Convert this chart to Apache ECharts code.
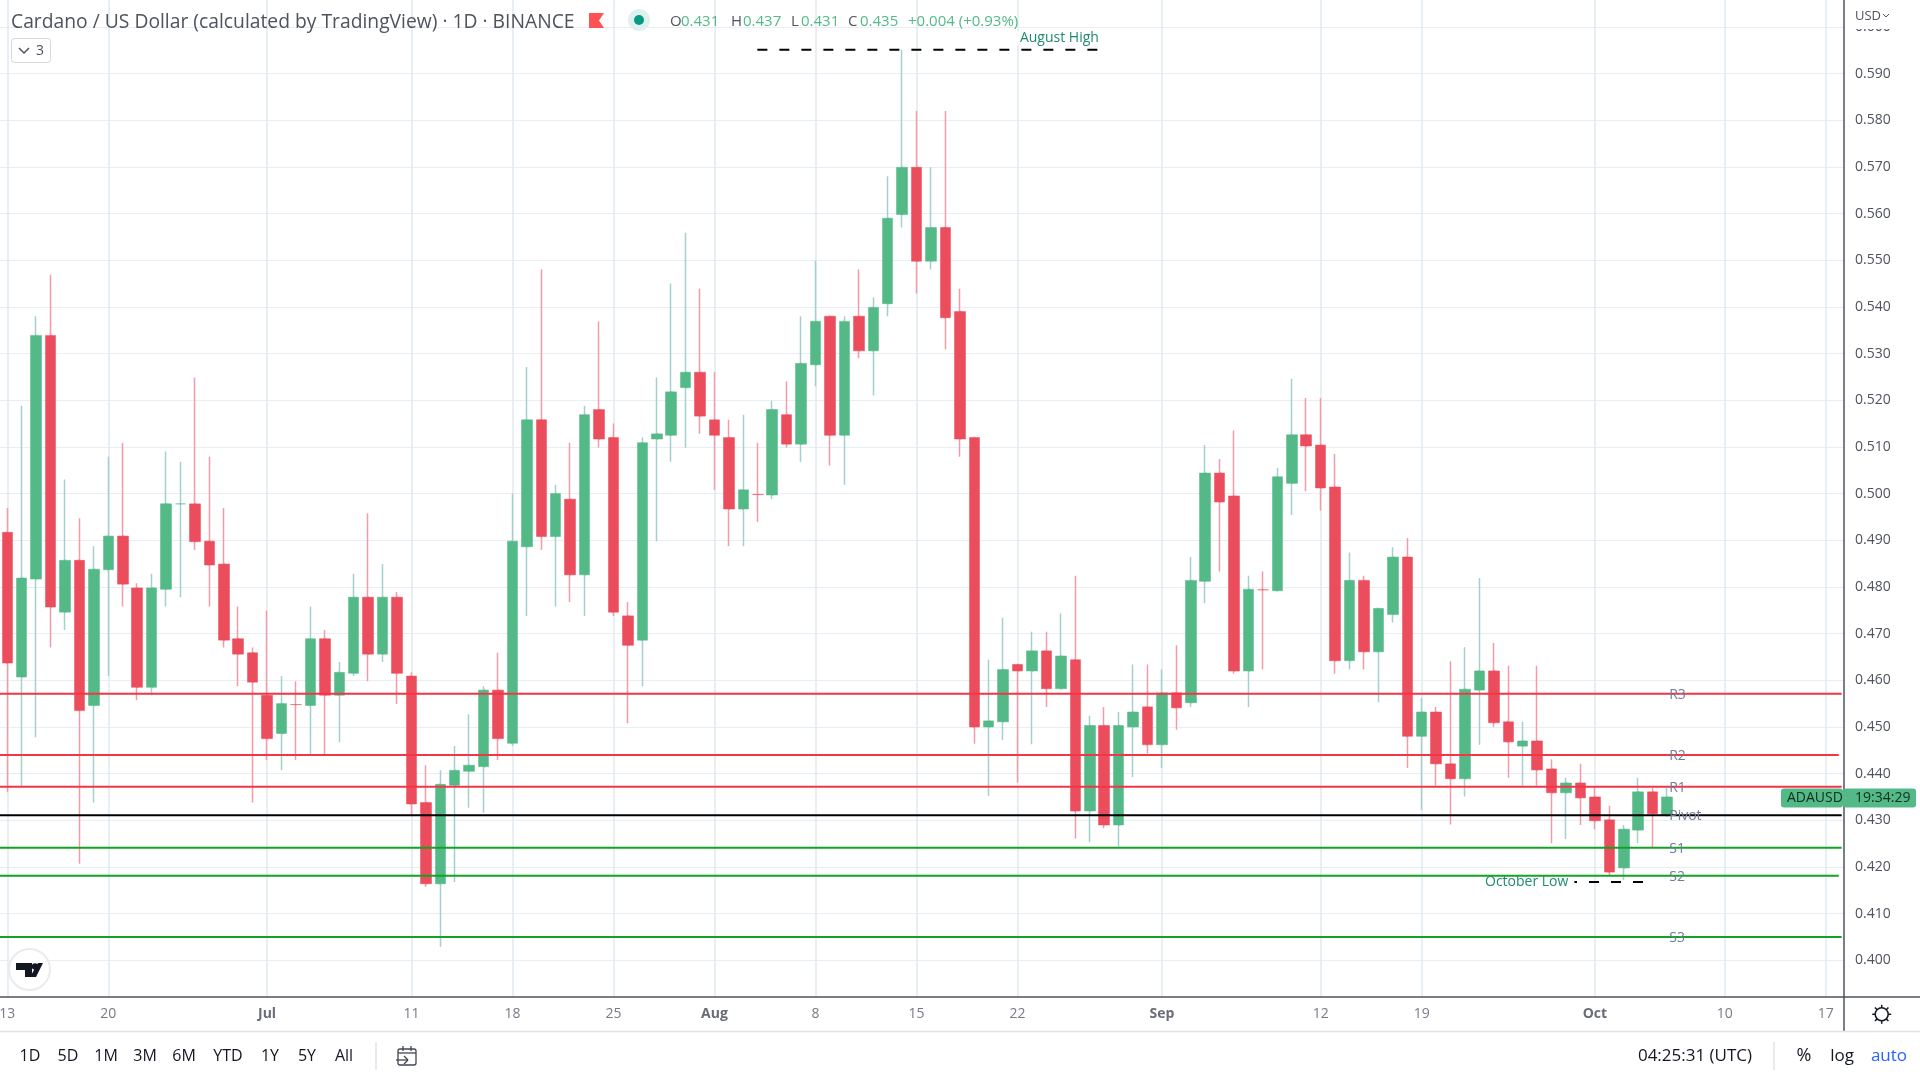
<!DOCTYPE html>
<html>
<head>
<meta charset="utf-8">
<title>ADAUSD</title>
<script src="https://cdn.jsdelivr.net/npm/echarts@6/dist/echarts.min.js"></script>
<style>
  html, body { margin: 0; padding: 0; background: #fff; }
  #main { width: 1920px; height: 1080px; }
</style>
</head>
<body>
<div id="main"></div>
<script>
// index from 13 Jun, one row per day: open, close, low, high
const opens = [
  0.4917, 0.4607, 0.4817, 0.5339, 0.4746, 0.4857, 0.4546, 0.4837, 0.4909, 0.4798,
  0.4585, 0.4795, 0.4978, 0.4978, 0.4898, 0.4849, 0.4689, 0.4659, 0.4568, 0.4486,
  0.4548, 0.4546, 0.4689, 0.4568, 0.4615, 0.4778, 0.4656, 0.4778, 0.4609, 0.4338,
  0.4164, 0.4375, 0.4405, 0.4415, 0.4579, 0.4465, 0.4886, 0.5158, 0.4908, 0.4988,
  0.4826, 0.5180, 0.5120, 0.4738, 0.4686, 0.5117, 0.5125, 0.5227, 0.5260, 0.5158,
  0.5120, 0.4967, 0.4998, 0.4997, 0.5169, 0.5106, 0.5276, 0.5380, 0.5125, 0.5380,
  0.5306, 0.5407, 0.5598, 0.5699, 0.5498, 0.5570, 0.5390, 0.5120, 0.4500, 0.4511,
  0.4634, 0.4620, 0.4663, 0.4582, 0.4644, 0.4320, 0.4503, 0.4290, 0.4500, 0.4543,
  0.4462, 0.4573, 0.4552, 0.4812, 0.5044, 0.4995, 0.4620, 0.4794, 0.4792, 0.5022,
  0.5126, 0.5104, 0.5014, 0.4642, 0.4814, 0.4661, 0.4741, 0.4864, 0.4480, 0.4532,
  0.4421, 0.4389, 0.4579, 0.4620, 0.4511, 0.4459, 0.4470, 0.4410, 0.4359, 0.4380,
  0.4350, 0.4301, 0.4198, 0.4279, 0.4361, 0.4310
];
const closes = [
  0.4637, 0.4819, 0.5339, 0.4757, 0.4857, 0.4535, 0.4838, 0.4909, 0.4806, 0.4585,
  0.4798, 0.4978, 0.4978, 0.4897, 0.4847, 0.4686, 0.4656, 0.4596, 0.4475, 0.4550,
  0.4548, 0.4689, 0.4568, 0.4617, 0.4778, 0.4656, 0.4778, 0.4615, 0.4335, 0.4164,
  0.4377, 0.4407, 0.4418, 0.4579, 0.4475, 0.4898, 0.5158, 0.4908, 0.5000, 0.4826,
  0.5169, 0.5117, 0.4746, 0.4675, 0.5109, 0.5128, 0.5218, 0.5260, 0.5166, 0.5125,
  0.4967, 0.5008, 0.4998, 0.5180, 0.5106, 0.5279, 0.5369, 0.5125, 0.5369, 0.5306,
  0.5399, 0.5590, 0.5699, 0.5498, 0.5570, 0.5377, 0.5117, 0.4500, 0.4513, 0.4623,
  0.4620, 0.4663, 0.4582, 0.4652, 0.4320, 0.4503, 0.4290, 0.4503, 0.4532, 0.4462,
  0.4573, 0.4541, 0.4814, 0.5044, 0.4982, 0.4620, 0.4795, 0.4794, 0.5036, 0.5126,
  0.5102, 0.5012, 0.4642, 0.4814, 0.4661, 0.4754, 0.4864, 0.4480, 0.4532, 0.4421,
  0.4389, 0.4581, 0.4620, 0.4509, 0.4468, 0.4470, 0.4408, 0.4359, 0.4380, 0.4348,
  0.4299, 0.4189, 0.4281, 0.4361, 0.4314, 0.4350
];
const lows = [
  0.4360, 0.4371, 0.4478, 0.4670, 0.4708, 0.4207, 0.4338, 0.4609, 0.4758, 0.4557,
  0.4568, 0.4758, 0.4778, 0.4879, 0.4758, 0.4670, 0.4587, 0.4338, 0.4429, 0.4407,
  0.4429, 0.4439, 0.4439, 0.4467, 0.4609, 0.4598, 0.4639, 0.4549, 0.4311, 0.4157,
  0.4029, 0.4168, 0.4327, 0.4316, 0.4429, 0.4459, 0.4738, 0.4879, 0.4758, 0.4768,
  0.4738, 0.5098, 0.4738, 0.4508, 0.4587, 0.4898, 0.5068, 0.5098, 0.5128, 0.5008,
  0.4887, 0.4887, 0.4939, 0.4988, 0.5098, 0.5068, 0.5230, 0.5060, 0.5019, 0.5290,
  0.5210, 0.5380, 0.5570, 0.5429, 0.5480, 0.5309, 0.5079, 0.4464, 0.4352, 0.4472,
  0.4381, 0.4463, 0.4543, 0.4582, 0.4261, 0.4253, 0.4283, 0.4244, 0.4393, 0.4443,
  0.4412, 0.4494, 0.4543, 0.4765, 0.4833, 0.4614, 0.4543, 0.4623, 0.4792, 0.4954,
  0.5005, 0.4964, 0.4614, 0.4623, 0.4623, 0.4553, 0.4724, 0.4412, 0.4322, 0.4374,
  0.4291, 0.4351, 0.4462, 0.4500, 0.4391, 0.4374, 0.4374, 0.4251, 0.4260, 0.4290,
  0.4281, 0.4183, 0.4172, 0.4251, 0.4243, 0.4310
];
const highs = [
  0.4969, 0.5188, 0.5380, 0.5469, 0.5030, 0.4947, 0.4887, 0.5079, 0.5109, 0.4808,
  0.4828, 0.5090, 0.5068, 0.5249, 0.5079, 0.4969, 0.4758, 0.4670, 0.4749, 0.4609,
  0.4598, 0.4758, 0.4708, 0.4639, 0.4828, 0.4958, 0.4849, 0.4789, 0.4617, 0.4418,
  0.4407, 0.4459, 0.4527, 0.4587, 0.4659, 0.5000, 0.5271, 0.5480, 0.5019, 0.5109,
  0.5188, 0.5369, 0.5150, 0.4768, 0.5120, 0.5249, 0.5450, 0.5559, 0.5439, 0.5260,
  0.5158, 0.5169, 0.5109, 0.5199, 0.5240, 0.5380, 0.5499, 0.5380, 0.5380, 0.5480,
  0.5420, 0.5680, 0.5951, 0.5820, 0.5699, 0.5820, 0.5439, 0.5120, 0.4644, 0.4734,
  0.4634, 0.4704, 0.4704, 0.4743, 0.4824, 0.4524, 0.4543, 0.4532, 0.4634, 0.4634,
  0.4623, 0.4675, 0.4864, 0.5104, 0.5074, 0.5135, 0.4824, 0.4833, 0.5055, 0.5246,
  0.5205, 0.5205, 0.5085, 0.4874, 0.4824, 0.4754, 0.4885, 0.4905, 0.4562, 0.4543,
  0.4641, 0.4671, 0.4819, 0.4680, 0.4631, 0.4511, 0.4631, 0.4431, 0.4391, 0.4421,
  0.4372, 0.4331, 0.4290, 0.4391, 0.4369, 0.4370
];

const timeTickIndex = [0, 7, 18, 28, 35, 42, 49, 56, 63, 70, 80, 91, 98, 110, 119, 126];
const timeTickLabels = ["13", "20", "Jul", "11", "18", "25", "Aug", "8", "15", "22", "Sep", "12", "19", "Oct", "10", "17"];
const priceTicks = [0.40, 0.41, 0.42, 0.43, 0.44, 0.45, 0.46, 0.47, 0.48, 0.49, 0.50, 0.51, 0.52, 0.53, 0.54, 0.55, 0.56, 0.57, 0.58, 0.59, 0.60];

const levelNames = ["R3", "R2", "R1", "Pivot", "S1", "S2", "S3"];
const levelValues = [0.4571, 0.4440, 0.4372, 0.4311, 0.4241, 0.4181, 0.4050];
const levelEnds = [127.1, 126.9, 127.1, 127.1, 127.1, 126.9, 127.1];
const levelColors = ["#f23645", "#f23645", "#f23645", "#000000", "#13a324", "#13a324", "#13a324"];

const augustHigh = 0.5951;
const octoberLow = 0.4168;

const UP = "#53b987", DOWN = "#eb4d5c", UP_WICK = "#a3cfcf", DOWN_WICK = "#f79aa8";
const FONT = "'Open Sans', sans-serif";
const TEXT = "#50535e";

const candles = opens.map((o, i) => [i, o, closes[i], lows[i], highs[i]]);
// second layer: bodies only, wicks come from the first layer in a lighter colour
const bodies = opens.map((o, i) => [i, o, closes[i], Math.min(o, closes[i]), Math.max(o, closes[i])]);

const levelSeries = levelValues.map((v, i) => ({
  type: "line",
  name: levelNames[i],
  data: [[-0.51, v], [levelEnds[i], v]],
  symbol: "none",
  silent: true,
  z: 5,
  lineStyle: { color: levelColors[i], width: 2 },
}));

const dashed = (name, from, to, value) => ({
  type: "line",
  name: name,
  data: [[from, value], [to, value]],
  symbol: "none",
  silent: true,
  z: 3,
  lineStyle: { color: "#000", width: 2, type: [10, 12] },
});

const option = {
  animation: false,
  backgroundColor: "#fff",
  textStyle: { fontFamily: FONT },
  grid: { left: 0, right: 76, top: 0, bottom: 83, outerBoundsMode: "none" },
  xAxis: {
    type: "value",
    min: -0.506,
    max: 127.26,
    axisLine: { onZero: false, lineStyle: { color: "#50535e", width: 1.5 } },
    axisTick: { show: false, customValues: timeTickIndex },
    splitLine: { show: true, lineStyle: { color: "#e1eaf0", width: 1.5 } },
    axisLabel: {
      customValues: timeTickIndex,
      margin: 10,
      fontSize: 14,
      color: "#787b86",
      hideOverlap: false,
      formatter: (v) => {
        const s = timeTickLabels[timeTickIndex.indexOf(v)];
        return /[a-z]/.test(s) ? "{b|" + s + "}" : s;
      },
      rich: { b: { fontSize: 14, fontWeight: "bold", color: "#6a6d78", fontFamily: FONT } },
    },
  },
  yAxis: {
    type: "value",
    position: "right",
    min: 0.39214,
    max: 0.60576,
    axisLine: { show: true, onZero: false, lineStyle: { color: "#50535e", width: 1.5 } },
    axisTick: { show: false, customValues: priceTicks },
    splitLine: { show: true, lineStyle: { color: "#e8eef3", width: 1 } },
    axisLabel: {
      customValues: priceTicks,
      margin: 11,
      padding: [2, 0, 0, 0],
      fontSize: 14,
      color: TEXT,
      formatter: (v) => v.toFixed(3),
    },
  },
  series: [
    {
      type: "candlestick",
      name: "wicks",
      data: candles,
      barWidth: 1.5,
      silent: true,
      z: 2,
      itemStyle: { color: UP_WICK, color0: DOWN_WICK, borderColor: UP_WICK, borderColor0: DOWN_WICK, borderWidth: 1.5 },
    },
    {
      type: "candlestick",
      name: "bodies",
      data: bodies,
      barWidth: 11,
      silent: true,
      z: 2.5,
      itemStyle: { color: UP, color0: DOWN, borderColor: UP, borderColor0: DOWN, borderWidth: 0.5 },
    },
    dashed("August High", 51.97, 75.64, augustHigh),
    dashed("October Low", 101.97, 113.34, octoberLow),
    {
      type: "scatter",
      name: "level labels",
      data: levelValues.map((v, i) => ({ value: [115.15, v], name: levelNames[i] })),
      symbolSize: 0,
      silent: true,
      z: 6,
      itemStyle: { opacity: 1 },
      label: {
        show: true,
        position: "right",
        distance: 0,
        offset: [0, 1],
        formatter: "{b}",
        fontSize: 14,
        color: "#6f7d95",
        fontFamily: FONT,
      },
    },
    {
      type: "scatter",
      name: "notes",
      data: [
        { value: [76.05, augustHigh + 0.0025], name: "August High", label: { position: "left" } },
        { value: [101.97, octoberLow - 0.0001], name: "October Low", label: { position: "right" } },
      ],
      symbolSize: 0,
      silent: true,
      z: 4,
      itemStyle: { opacity: 1 },
      label: {
        show: true,
        formatter: "{b}",
        fontSize: 14,
        color: "#1f8a70",
        fontFamily: FONT,
        backgroundColor: "#fff",
        padding: [0, 6],
        distance: 0,
      },
    },
    ...levelSeries,
  ],
};

const chart = echarts.init(document.getElementById("main"), null, { renderer: "canvas" });
chart.setOption(option);

// price tag follows the last close
const tagY = chart.convertToPixel({ yAxisIndex: 0 }, closes[closes.length - 1]) + 1;

const txt = (x, y, text, fill, size, extra) => ({
  type: "text",
  x: x,
  y: y,
  z: 20,
  style: Object.assign({
    text: text,
    fill: fill,
    fontSize: size || 16,
    fontFamily: FONT,
    verticalAlign: "middle",
  }, extra || {}),
});
const ln = (x1, y1, x2, y2, stroke, w) => ({
  type: "line",
  z: 21,
  shape: { x1, y1, x2, y2 },
  style: { stroke: stroke, lineWidth: w || 1 },
});
const centered = { align: "center" };

const bottomButtons = [["1D", 30], ["5D", 68], ["1M", 106], ["3M", 145], ["6M", 184], ["YTD", 228], ["1Y", 270], ["5Y", 307], ["All", 344]];
const ohlc = [["O", 670], ["0.431", 681], ["H", 731], ["0.437", 743], ["L", 791], ["0.431", 801], ["C", 848], ["0.435", 860]];

chart.setOption({
  graphic: [
    // header
    txt(11, 23, "Cardano / US Dollar (calculated by TradingView) · 1D · BINANCE", "#50535e", 19.3),
    { type: "polygon", z: 20, shape: { points: [[589, 13], [604, 13], [599, 20.5], [604, 28], [589, 28]] }, style: { fill: "#ff5252" } },
    { type: "circle", z: 20, shape: { cx: 639, cy: 20, r: 11 }, style: { fill: "#dff1ee" } },
    { type: "circle", z: 21, shape: { cx: 639, cy: 20, r: 5 }, style: { fill: "#089981" } },
    ...ohlc.map(([s, x], i) => txt(x, 22, s, i % 2 ? UP : "#50535e", 15)),
    txt(908, 22, "+0.004 (+0.93%)", UP, 15),
    { type: "rect", z: 20, shape: { x: 11.5, y: 38.5, width: 39, height: 24, r: 3 }, style: { fill: "#fff", stroke: "#d6d8de" } },
    { type: "polyline", z: 21, shape: { points: [[19, 48], [24, 53], [29, 48]] }, style: { stroke: "#50535e", fill: null, lineWidth: 1.5 } },
    txt(36, 51, "3", "#50535e", 14),

    // logo
    { type: "circle", z: 20, shape: { cx: 29.5, cy: 969.5, r: 20.5 }, style: { fill: "#fff", stroke: "#ebebed", lineWidth: 2 } },
    { type: "polygon", z: 21, shape: { points: [[16, 963], [32, 963], [32, 977], [25, 977], [25, 970], [16, 970]] }, style: { fill: "#131722" } },
    { type: "circle", z: 21, shape: { cx: 35, cy: 966.5, r: 3.2 }, style: { fill: "#131722" } },
    { type: "polygon", z: 21, shape: { points: [[38, 963], [43, 963], [36, 977], [30, 977]] }, style: { fill: "#131722" } },

    // price scale corner and live tag, the top label sits under the corner
    { type: "rect", z: 19, shape: { x: 1845, y: 0, width: 75, height: 29 }, style: { fill: "#fff" } },
    txt(1855, 16, "USD", TEXT, 13),
    { type: "polyline", z: 21, shape: { points: [[1883, 14], [1886, 17], [1889, 14]] }, style: { stroke: TEXT, fill: null, lineWidth: 1 } },
    { type: "rect", z: 20, shape: { x: 1781, y: tagY - 9.5, width: 62, height: 19, r: 3 }, style: { fill: UP } },
    { type: "rect", z: 20, shape: { x: 1843, y: tagY - 9.5, width: 73, height: 19, r: 3 }, style: { fill: UP } },
    txt(1787, tagY + 0.5, "ADAUSD", "#0f2e1f", 14),
    txt(1855, tagY + 0.5, "19:34:29", "#0f2e1f", 14),

    // lower chrome
    ln(1844, 997, 1844, 1031, "#50535e", 1.5),
    ln(0, 1031.5, 1920, 1031.5, "#e0e3eb", 1.5),
    ln(1844, 997, 1920, 997, "#50535e", 1.5),
    { type: "circle", z: 20, shape: { cx: 1881.7, cy: 1014.3, r: 6.5 }, style: { fill: "#fff", stroke: "#131722", lineWidth: 1.5 } },
    ...[0, 45, 90, 135, 180, 225, 270, 315].map((a) => {
      const r = a * Math.PI / 180;
      return ln(1881.7 + 6.5 * Math.cos(r), 1014.3 + 6.5 * Math.sin(r), 1881.7 + 9.5 * Math.cos(r), 1014.3 + 9.5 * Math.sin(r), "#131722", 1.5);
    }),
    ...bottomButtons.map(([s, x]) => txt(x, 1056, s, "#131722", 16, centered)),
    ln(376, 1042, 376, 1070, "#e0e3eb", 1.5),
    { type: "rect", z: 20, shape: { x: 398, y: 1049, width: 18, height: 16, r: 2 }, style: { fill: "#fff", stroke: "#434651", lineWidth: 1.3 } },
    ln(398, 1053, 416, 1053, "#434651", 1.3),
    ln(403, 1046, 403, 1051, "#434651", 1.3),
    ln(411, 1046, 411, 1051, "#434651", 1.3),
    ln(396, 1060, 408, 1060, "#434651", 1.3),
    ln(404, 1056, 408, 1060, "#434651", 1.3),
    ln(404, 1064, 408, 1060, "#434651", 1.3),
    txt(1695, 1056, "04:25:31 (UTC)", "#131722", 17, centered),
    ln(1774, 1042, 1774, 1070, "#e0e3eb", 1.5),
    txt(1804, 1056, "%", "#131722", 18, centered),
    txt(1842, 1056, "log", "#131722", 17, centered),
    txt(1889, 1056, "auto", "#2962ff", 17, centered),
  ],
});
</script>
</body>
</html>
